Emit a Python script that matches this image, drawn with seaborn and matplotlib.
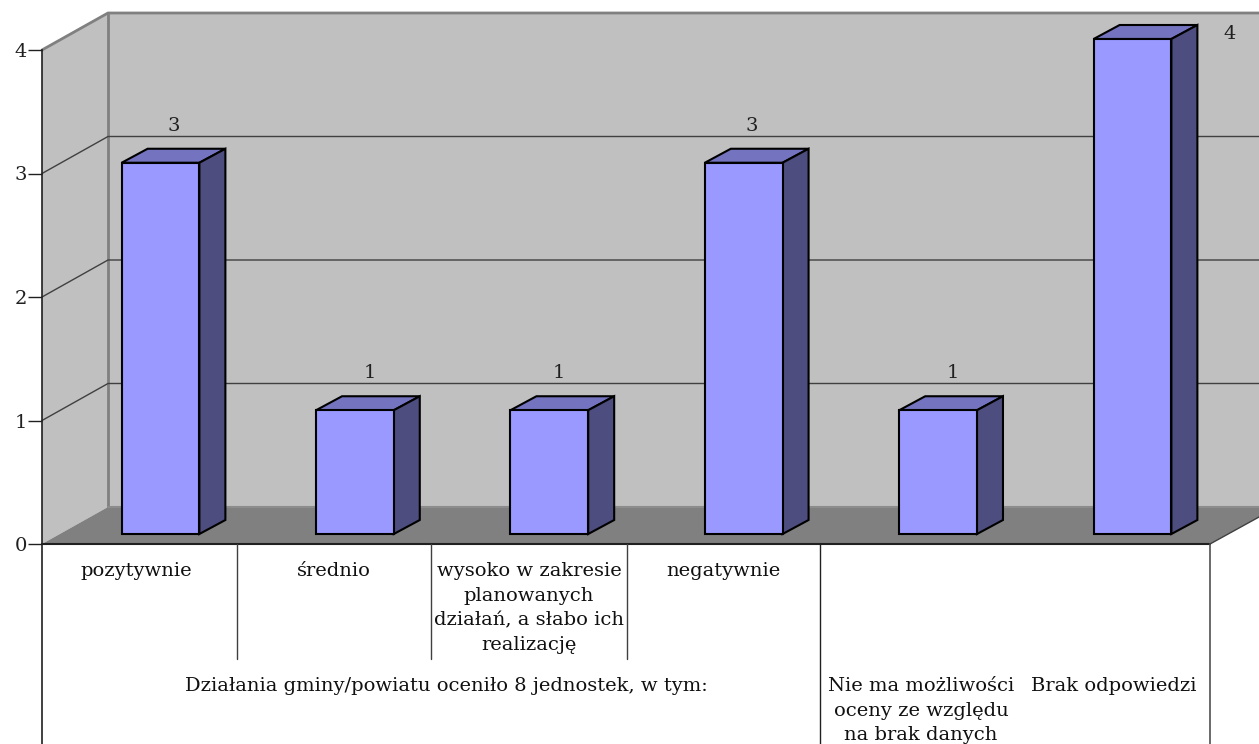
# 3D-look column chart with a data table style axis underneath
import matplotlib
matplotlib.use("Agg")
import matplotlib.pyplot as plt
import seaborn as sns

categories = ["pozytywnie", "średnio",
              "wysoko w zakresie\nplanowanych\ndziałań, a słabo ich\nrealizację",
              "negatywnie", "Nie ma możliwości\noceny ze względu\nna brak danych",
              "Brak odpowiedzi"]
values = [3, 1, 1, 3, 1, 4]
y_ticks = [0, 1, 2, 3, 4]
group_label = "Działania gminy/powiatu oceniło 8 jednostek, w tym:"

W, H = 1259, 744
FONT = "DejaVu Serif"
FS = 14

sns.set_theme(style="white")
plt.rcParams["font.family"] = FONT

fig = plt.figure(figsize=(W / 100, H / 100), dpi=100)

#%%
# Background axes in pixels: walls, floor and the table lines
bg = fig.add_axes([0, 0, 1, 1])
bg.set_xlim(0, W)
bg.set_ylim(H, 0)
bg.axis("off")

wall = "#c0c0c0"
edge = "#808080"
bg.fill([42, 108, 108, 42], [50, 13, 507, 544], color=wall, lw=0)
bg.fill([108, W, W, 108], [13, 13, 507, 507], color=wall, lw=0)
bg.fill([42, 108, W, W, 1210], [544, 507, 507, 517, 544], color="#808080", lw=0)
bg.plot([42, 108, W], [50, 13, 13], color=edge, lw=2)
bg.plot([108, 108], [13, 507], color=edge, lw=2)
bg.plot([108, W], [507, 507], color="#8c8c8c", lw=1.5)

# Gridlines on the back and side walls
for t in y_ticks[1:-1]:
    y_side = 544 - t * 123.5
    bg.plot([42, 108, W], [y_side, y_side - 37, y_side - 37], color="#404040", lw=1)

# Table under the chart
bg.plot([42, 1210], [544, 544], color="#202020", lw=1.5)
bg.plot([42, 42], [544, H], color="#202020", lw=1.2)
bg.plot([1210, 1210], [544, H], color="#505050", lw=1.2)
bg.plot([1210, W], [544, 517], color="#404040", lw=1)
bg.plot([820, 820], [544, H], color="#202020", lw=1)
for x in [237, 431, 627]:
    bg.plot([x, x], [544, 659], color="#404040", lw=1)

#%%
# Value axis on the left side wall
val = fig.add_axes([42 / W, 1 - 544 / H, 0.0005, (544 - 50) / H])
val.patch.set_alpha(0)
val.set_ylim(0, 4)
val.set_yticks(y_ticks)
val.set_xticks([])
for s in ["top", "right", "bottom"]:
    val.spines[s].set_visible(False)
val.spines["left"].set_color("#202020")
val.spines["left"].set_linewidth(1.2)
val.tick_params(axis="y", left=True, length=10, width=1, color="#202020",
                pad=1, labelsize=FS, labelcolor="#202020")

#%%
# Bars: front faces come from seaborn, in value units
ax = fig.add_axes([0, 0, 1, 1])
ax.patch.set_alpha(0)
sns.barplot(x=list(range(len(values))), y=values, color="#9999ff", saturation=1,
            width=0.4, edgecolor="black", linewidth=1.5, ax=ax, zorder=3)

step_x, step_y = 194.4, 123.75
ax.set_xlim(-160.5 / step_x, (W - 160.5) / step_x)
ax.set_ylim((534 - H) / step_y, 534 / step_y)
ax.axis("off")

# Depth of each column
dx, dy = 26 / step_x, 14 / step_y
hw = 0.2
label_shift = [0.07, 0.075, 0.05, 0.04, 0.075, 0.5]
for i, v in enumerate(values):
    ax.fill([i - hw, i - hw + dx, i + hw + dx, i + hw], [v, v + dy, v + dy, v],
            facecolor="#7373bf", edgecolor="black", lw=1.5, zorder=2)
    ax.fill([i + hw, i + hw + dx, i + hw + dx, i + hw], [0, dy, v + dy, v],
            facecolor="#4d4d80", edgecolor="black", lw=1.5, zorder=2)
    # Data labels sit above the column, the tallest one beside it
    lift = -0.03 if v == max(values) else 0.225
    ax.text(i + label_shift[i], v + lift, str(v), ha="center", va="bottom",
            fontsize=FS, color="#202020")

#%%
# Table text
label_x = [136, 334, 529, 723, 921, 1114]
for i, c in enumerate(categories):
    top = 562 if i < 4 else 677
    bg.text(label_x[i], top, c, ha="center", va="top", fontsize=FS,
            color="#101010", linespacing=1.48)
bg.text(446, 677, group_label, ha="center", va="top", fontsize=FS, color="#101010")

fig.savefig("out.png", dpi=100)
